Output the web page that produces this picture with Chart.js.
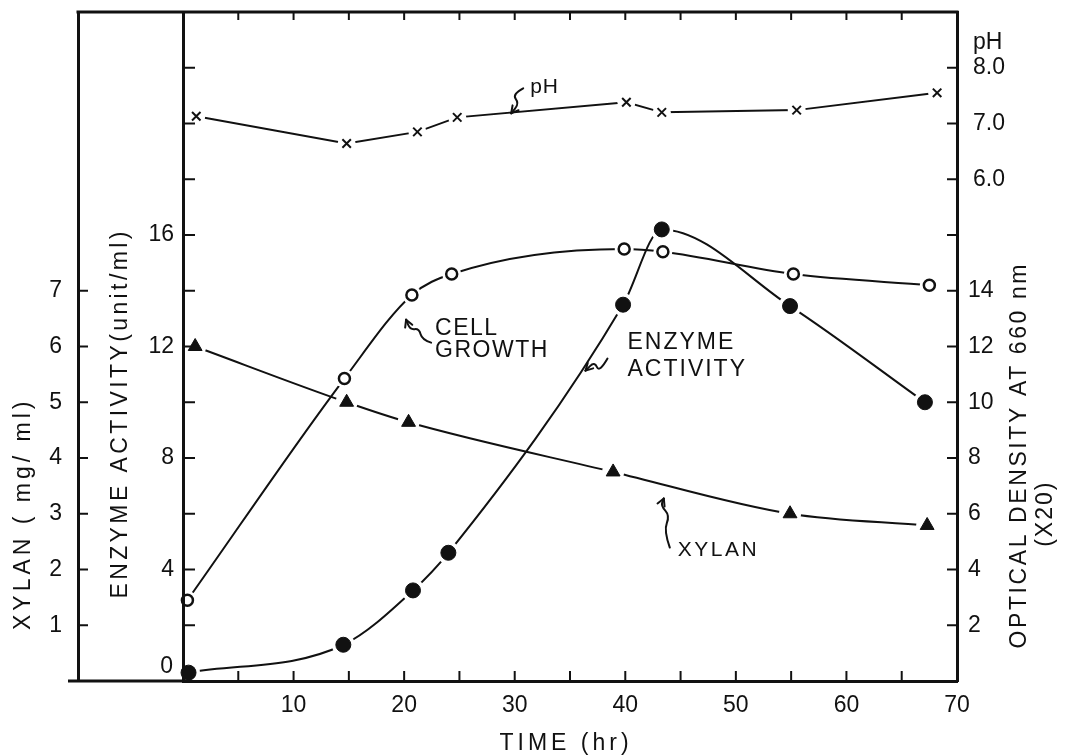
<!DOCTYPE html>
<html><head><meta charset="utf-8">
<script src="https://cdn.jsdelivr.net/npm/chart.js@4.4.1/dist/chart.umd.min.js"></script>
<style>html,body{margin:0;padding:0;background:#fff}#wrap{width:1069px;height:756px;position:relative}</style>
</head><body><div id="wrap"><canvas id="c"></canvas></div>
<script>
// ---- data ----
const enzymeTime = [0.5, 14.5, 20.8, 24.0, 39.8, 43.3, 54.9, 67.1];
const enzymeActivity = [0.3, 1.3, 3.25, 4.6, 13.5, 16.2, 13.45, 10.0];
const growthTime = [0.4, 14.6, 20.7, 24.3, 39.9, 43.4, 55.2, 67.5];
const opticalDensity = [2.9, 10.85, 13.85, 14.6, 15.5, 15.4, 14.6, 14.2];
const xylanTime = [1.1, 14.8, 20.4, 38.9, 54.9, 67.3];
const xylanConc = [6.0, 5.0, 4.64, 3.75, 3.0, 2.79];
const phTime = [1.2, 14.8, 21.2, 24.8, 40.1, 43.3, 55.5, 68.2];
const phValues = [7.13, 6.64, 6.85, 7.11, 7.38, 7.2, 7.24, 7.55];

const timeTickLabels = ['10', '20', '30', '40', '50', '60', '70'];
const enzymeTickLabels = ['0', '4', '8', '12', '16'];
const xylanTickLabels = ['1', '2', '3', '4', '5', '6', '7'];
const odTickLabels = ['2', '4', '6', '8', '10', '12', '14'];
const phTickLabels = ['6.0', '7.0', '8.0'];
const phTickMarks = ['5.0', '6.0', '7.0', '8.0'];

const INK = '#111';
const FONT = "'Liberation Sans', Arial, sans-serif";

function pts(xs, ys) { return xs.map((t, i) => ({x: t, y: ys[i]})); }

const series = [
  {xs: enzymeTime, ys: enzymeActivity, axis: 'y', style: 'circle', r: 7.5, fill: INK, bw: 1, smooth: true, halo: 4},
  {xs: growthTime, ys: opticalDensity, axis: 'yOD', style: 'circle', r: 5.5, fill: '#fff', bw: 2.5, smooth: true, halo: 4},
  {xs: xylanTime, ys: xylanConc, axis: 'yX', style: 'triangle', r: 8, fill: INK, bw: 1, smooth: true, halo: 3},
  {xs: phTime, ys: phValues, axis: 'ypH', style: 'crossRot', r: 6, fill: INK, bw: 2, smooth: false, halo: 3}
];

const datasets = [];
series.forEach(s => {
  const d = pts(s.xs, s.ys);
  datasets.push({data: d, yAxisID: s.axis, borderColor: INK, borderWidth: 2, pointRadius: 0,
    fill: false, showLine: true, tension: 0, cubicInterpolationMode: s.smooth ? 'monotone' : 'default', order: 30});
  datasets.push({data: d, yAxisID: s.axis, showLine: false, pointStyle: 'circle', pointRadius: s.r + s.halo,
    pointBackgroundColor: '#fff', pointBorderColor: '#fff', pointBorderWidth: 0, order: 20});
  datasets.push({data: d, yAxisID: s.axis, showLine: false, pointStyle: s.style, pointRadius: s.r,
    pointBackgroundColor: s.fill, pointBorderColor: INK, pointBorderWidth: s.bw, order: 10, clip: false});
});

const tickFont = {family: FONT, size: 23};
const gridOff = {display: true, drawOnChartArea: false, drawTicks: false};
const border = {display: true, width: 3, color: INK, z: 1};

function noPad(s) { s.paddingTop = 0; s.paddingBottom = 0; s.paddingLeft = 0; s.paddingRight = 0; }

function line(ctx, x1, y1, x2, y2) { ctx.beginPath(); ctx.moveTo(x1, y1); ctx.lineTo(x2, y2); ctx.stroke(); }
function txt(ctx, s, x, y, align, size, spacing, rot) {
  ctx.save();
  ctx.font = (size || 23) + 'px ' + FONT;
  ctx.letterSpacing = (spacing || 0) + 'px';
  ctx.fillStyle = INK;
  ctx.textBaseline = 'middle';
  ctx.translate(x, y);
  if (rot) ctx.rotate(rot);
  ctx.textAlign = align || 'left';
  ctx.fillText(s, 0, 0);
  ctx.restore();
}
function squiggle(ctx, ax, ay, offs) {
  const p = offs.map(o => [ax + o[0], ay + o[1]]);
  ctx.save();
  ctx.lineWidth = 2; ctx.lineJoin = 'round'; ctx.lineCap = 'round'; ctx.strokeStyle = INK;
  ctx.beginPath();
  ctx.moveTo(p[0][0], p[0][1]);
  for (let i = 1; i < p.length - 1; i++) {
    const mx = (p[i][0] + p[i + 1][0]) / 2, my = (p[i][1] + p[i + 1][1]) / 2;
    ctx.quadraticCurveTo(p[i][0], p[i][1], mx, my);
  }
  const L = p[p.length - 1], P = p[p.length - 2];
  ctx.lineTo(L[0], L[1]);
  ctx.stroke();
  const a = Math.atan2(L[1] - P[1], L[0] - P[0]);
  [-0.5, 0.5].forEach(da => line(ctx, L[0], L[1], L[0] - 8 * Math.cos(a + da), L[1] - 8 * Math.sin(a + da)));
  ctx.restore();
}

const inkPlugin = {
  id: 'ink',
  afterDraw(chart) {
    const ctx = chart.ctx;
    const {x, y: yE, yX, yOD, ypH} = chart.scales;
    const ca = chart.chartArea;
    ctx.save();
    ctx.strokeStyle = INK;
    ctx.lineWidth = 3;
    // outer frame: top line and bottom-line extension
    line(ctx, yX.right - 1.5, ca.top, ca.right + 1.5, ca.top);
    line(ctx, yX.right - 10, ca.bottom, ca.left, ca.bottom);
    // inward tick marks
    ctx.lineWidth = 2;
    x.ticks.forEach(t => {
      if (t.value > 0 && t.value < 70) {
        const px = x.getPixelForValue(t.value);
        line(ctx, px, ca.bottom, px, ca.bottom - 10);
        line(ctx, px, ca.top, px, ca.top + 8);
      }
    });
    yE.ticks.forEach(t => {
      if (t.value > 0 && t.value < 24) { const py = yE.getPixelForValue(t.value); line(ctx, ca.left, py, ca.left + 12, py); }
    });
    yX.ticks.forEach(t => {
      if (xylanTickLabels.includes(String(t.value))) { const py = yX.getPixelForValue(t.value); line(ctx, yX.right, py, yX.right + 10, py); }
    });
    yOD.ticks.forEach(t => {
      if (odTickLabels.includes(String(t.value))) { const py = yOD.getPixelForValue(t.value); line(ctx, ca.right, py, ca.right - 10, py); }
    });
    ypH.ticks.forEach(t => {
      if (phTickMarks.includes(t.value.toFixed(1))) { const py = ypH.getPixelForValue(t.value); line(ctx, ca.right, py, ca.right - 10, py); }
    });
    ctx.restore();

    // enzyme "0" label sits just above the baseline
    txt(ctx, enzymeTickLabels[0], yE.right - 10, yE.getPixelForValue(0) - 14, 'right', 23);
    // right-axis pH heading
    txt(ctx, 'pH', ypH.left + 16, ypH.getPixelForValue(8.45), 'left', 23);

    // axis titles
    txt(ctx, 'XYLAN ( mg/ ml)', yX.left + 24, yX.getPixelForValue(3.0), 'center', 23, 4, -Math.PI / 2);
    txt(ctx, 'ENZYME ACTIVITY(unit/ml)', yE.left + 43, yE.getPixelForValue(9.6), 'center', 23, 3.4, -Math.PI / 2);
    txt(ctx, 'OPTICAL DENSITY AT 660 nm', yOD.left + 63, yOD.getPixelForValue(8.1), 'center', 23, 2.6, -Math.PI / 2);
    txt(ctx, '(X20)', yOD.left + 89, yOD.getPixelForValue(6.0), 'center', 23, 2, -Math.PI / 2);
    txt(ctx, 'TIME (hr)', x.getPixelForValue(35) - 4, x.bottom - 12, 'center', 23, 4);

    // curve annotations with squiggle arrows
    const a1 = [x.getPixelForValue(31.4), yE.getPixelForValue(21.3)];
    txt(ctx, 'pH', a1[0], a1[1], 'left', 21, 1);
    squiggle(ctx, a1[0], a1[1], [[-7, 1], [-18, 7], [-11, 16], [-19, 26]]);

    const a2 = [x.getPixelForValue(22.8), yE.getPixelForValue(12.64)];
    txt(ctx, 'CELL', a2[0], a2[1], 'left', 23, 1.5);
    txt(ctx, 'GROWTH', a2[0], a2[1] + 22, 'left', 23, 1.5);
    squiggle(ctx, a2[0], a2[1], [[-4, 14], [-13, 11], [-16, 0], [-25, 1], [-29, -9]]);

    const a3 = [x.getPixelForValue(40.2), yE.getPixelForValue(12.14)];
    txt(ctx, 'ENZYME', a3[0], a3[1], 'left', 23, 2);
    txt(ctx, 'ACTIVITY', a3[0], a3[1] + 27, 'left', 23, 2);
    squiggle(ctx, a3[0], a3[1], [[-20, 16], [-28, 30], [-33, 19], [-42, 28]]);

    const a4 = [x.getPixelForValue(44.75), yE.getPixelForValue(4.68)];
    txt(ctx, 'XYLAN', a4[0], a4[1], 'left', 21, 2.5);
    squiggle(ctx, a4[0], a4[1], [[-8, -3], [-14, -20], [-8, -35], [-17, -45], [-14, -52]]);
  }
};

new Chart(document.getElementById('c'), {
  type: 'line',
  data: {datasets},
  options: {
    responsive: true, maintainAspectRatio: false, animation: false, devicePixelRatio: 1,
    events: [],
    layout: {padding: {top: 12, left: 0, right: 0, bottom: 0}},
    plugins: {legend: {display: false}, tooltip: {enabled: false}},
    scales: {
      x: {type: 'linear', position: 'bottom', min: 0, max: 70,
        ticks: {stepSize: 5, autoSkip: false, maxRotation: 0, padding: 11, color: INK, font: tickFont,
          callback: v => timeTickLabels.includes(String(v)) ? String(v) : ''},
        grid: gridOff, border: border,
        afterFit: s => { s.height = 75; noPad(s); }},
      yX: {type: 'linear', position: 'left', weight: 1, min: 0, max: 12,
        ticks: {stepSize: 1, autoSkip: false, padding: 16, color: INK, font: tickFont,
          callback: v => xylanTickLabels.includes(String(v)) ? String(v) : ''},
        grid: gridOff, border: border,
        afterFit: s => { s.width = 78; noPad(s); }},
      y: {type: 'linear', position: 'left', weight: 0, min: 0, max: 24,
        ticks: {stepSize: 2, autoSkip: false, padding: 9, color: INK, font: tickFont,
          callback: v => (v !== 0 && enzymeTickLabels.includes(String(v))) ? String(v) : ''},
        grid: gridOff, border: border,
        afterFit: s => { s.width = 105; noPad(s); }},
      ypH: {type: 'linear', position: 'right', weight: 0, min: -3, max: 9,
        ticks: {stepSize: 1, autoSkip: false, mirror: true, padding: 48, color: INK, font: tickFont,
          callback: v => phTickLabels.includes(v.toFixed(1)) ? v.toFixed(1) : ''},
        grid: gridOff, border: {display: false},
        afterFit: s => { s.width = 0; noPad(s); }},
      yOD: {type: 'linear', position: 'right', weight: 1, min: 0, max: 24,
        ticks: {stepSize: 2, autoSkip: false, padding: 11, color: INK, font: tickFont,
          callback: v => odTickLabels.includes(String(v)) ? String(v) : ''},
        grid: gridOff, border: border,
        afterFit: s => { s.width = 112; noPad(s); }}
    }
  },
  plugins: [inkPlugin]
});
</script></body></html>
